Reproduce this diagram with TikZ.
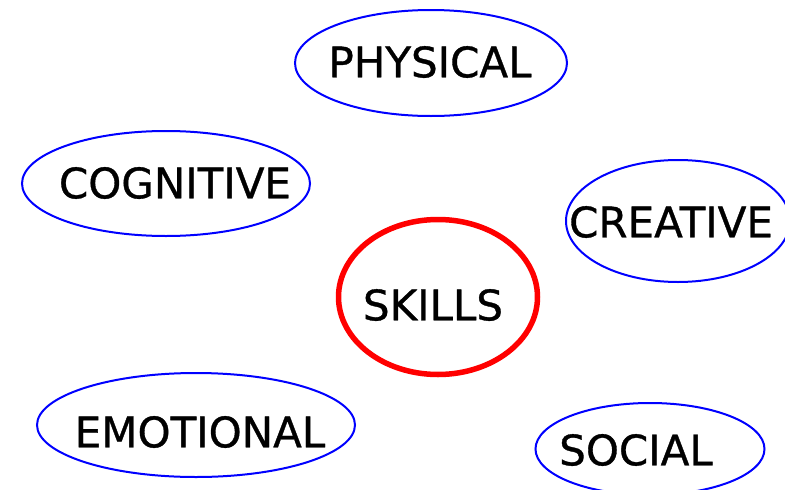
\documentclass[tikz,border=0pt]{standalone}
\usepackage{fontspec}
\setmainfont{DejaVu Sans}
\newfontfamily\lblfont{DejaVu Sans}[FakeBold=0.8]
\usetikzlibrary{shapes.geometric}
\tikzset{
  ell/.style={ellipse, draw=blue, line width=2pt, inner sep=0pt},
  hub/.style={ellipse, draw=red, line width=5.5pt, inner sep=0pt},
  lbl/.style={inner sep=0pt, font=\lblfont\fontsize{42}{48}\selectfont, text=black}
}
\begin{document}
\begin{tikzpicture}[x=1pt,y=-1pt]
\useasboundingbox (0,0) rectangle (785,490);
\clip (0,0) rectangle (785,490);
\fill[white] (0,0) rectangle (785,490);
\node[ell, minimum width=272pt, minimum height=106pt] (phys) at (431,63) {};
\node[lbl] (physt) at (430,62) {PHYSICAL};
\node[ell, minimum width=288pt, minimum height=105pt] (cog) at (166,183.5) {};
\node[lbl] (cogt) at (175,183) {COGNITIVE};
\node[ell, minimum width=224pt, minimum height=122pt] (cre) at (678,221) {};
\node[lbl] (cret) at (671,222) {CREATIVE};
\node[hub, minimum width=199pt, minimum height=155pt] (sk) at (438,297) {};
\node[lbl] (skt) at (433,305) {SKILLS};
\node[ell, minimum width=318pt, minimum height=104pt] (emo) at (196,425) {};
\node[lbl] (emot) at (200,432) {EMOTIONAL};
\node[ell, minimum width=229pt, minimum height=92pt] (soc) at (650,449) {};
\node[lbl] (soct) at (636,450) {SOCIAL};
\end{tikzpicture}
\end{document}
